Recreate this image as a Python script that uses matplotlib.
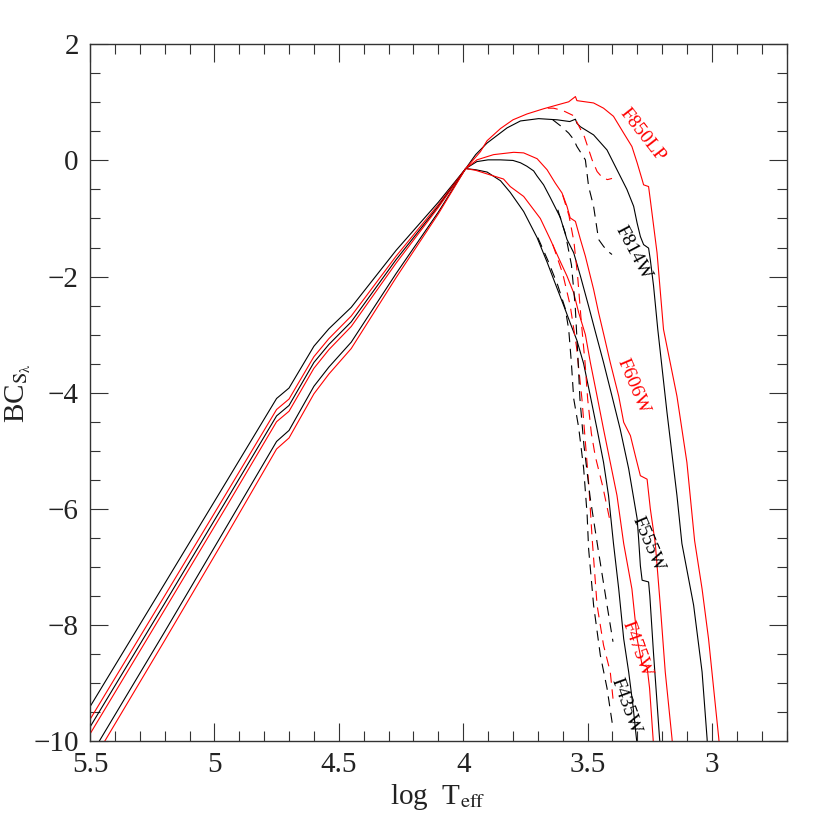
import matplotlib
matplotlib.use("Agg")
import matplotlib.pyplot as plt
from matplotlib.ticker import MultipleLocator, FuncFormatter

# ==================
# bolometric corrections
# hot part shares one log Teff grid
X_HOT = [5.5, 5.2, 4.95, 4.75, 4.70, 4.60, 4.54, 4.45, 4.27, 4.10]

F435W_X = X_HOT + [3.99, 3.95, 3.904, 3.85, 3.811, 3.757, 3.703, 3.663, 3.623, 3.596, 3.57,
                   3.543, 3.516, 3.489, 3.462, 3.436, 3.416, 3.396, 3.375, 3.355, 3.335, 3.318,
                   3.304, 3.30]
F435W_Y = [-9.41, -7.29, -5.52, -4.10, -3.92, -3.20, -2.90, -2.53, -1.55, -0.72,
           -0.14, -0.16, -0.20, -0.35, -0.55, -0.88, -1.33, -1.75, -2.20, -2.50, -2.80,
           -3.10, -3.50, -4.06, -4.63, -5.20, -5.77, -6.60, -7.38, -8.24, -8.81, -9.38,
           -9.95, -10.10]

F475W_X = X_HOT + [3.99, 3.95, 3.891, 3.838, 3.811, 3.757, 3.69, 3.65, 3.61, 3.583, 3.556,
                   3.536, 3.509, 3.489, 3.462, 3.436, 3.409, 3.382, 3.355, 3.322, 3.301,
                   3.281, 3.261, 3.251, 3.237, 3.235]
F475W_Y = [-9.63, -7.50, -5.72, -4.29, -4.11, -3.38, -3.07, -2.68, -1.65, -0.76,
           -0.14, -0.17, -0.25, -0.32, -0.45, -0.62, -1.00, -1.36, -1.74, -1.99, -2.28,
           -2.62, -3.00, -3.48, -4.06, -4.63, -5.20, -5.77, -6.60, -7.38, -8.24,
           -8.69, -8.72, -9.09, -9.95, -10.10]

F555W_X = X_HOT + [3.99, 3.945, 3.90, 3.851, 3.80, 3.77, 3.744, 3.717, 3.703, 3.677, 3.65,
                   3.61, 3.583, 3.556, 3.529, 3.496, 3.469, 3.436, 3.402, 3.369, 3.335,
                   3.301, 3.295, 3.288, 3.281, 3.255, 3.25, 3.235, 3.22, 3.211, 3.208]
F555W_Y = [-9.76, -7.63, -5.84, -4.40, -4.22, -3.48, -3.17, -2.78, -1.71, -0.79,
           -0.14, -0.02, 0.01, 0.01, 0.0, -0.04, -0.10, -0.18, -0.27, -0.42, -0.64,
           -0.98, -1.36, -1.59, -1.99, -2.51, -2.95, -3.48, -4.06, -4.63, -5.31,
           -6.17, -6.52, -6.98, -7.23, -7.26, -7.50, -8.50, -9.40, -9.95, -10.10]

F606W_X = X_HOT + [3.99, 3.945, 3.878, 3.797, 3.757, 3.703, 3.663, 3.63, 3.603, 3.583, 3.57,
                   3.549, 3.529, 3.509, 3.476, 3.456, 3.435, 3.409, 3.375, 3.355, 3.328,
                   3.308, 3.288, 3.261, 3.248, 3.228, 3.208, 3.188, 3.161, 3.158]
F606W_Y = [-9.88, -7.74, -5.95, -4.50, -4.32, -3.58, -3.26, -2.86, -1.77, -0.81,
           -0.14, 0.01, 0.10, 0.14, 0.13, 0.03, -0.16, -0.39, -0.56, -0.79, -0.99,
           -1.05, -1.36, -1.65, -2.22, -2.62, -3.00, -3.48, -4.06, -4.51, -4.74,
           -5.09, -5.43, -5.49, -6.00, -6.60, -7.66, -8.81, -9.95, -10.10]

F814W_X = X_HOT + [3.99, 3.95, 3.904, 3.824, 3.77, 3.697, 3.623, 3.572, 3.549, 3.543, 3.529,
                   3.476, 3.422, 3.382, 3.342, 3.315, 3.301, 3.288, 3.275, 3.255, 3.248,
                   3.235, 3.218, 3.181, 3.141, 3.121, 3.074, 3.04, 3.02, 3.018]
F814W_Y = [-10.27, -8.12, -6.30, -4.84, -4.65, -3.89, -3.56, -3.13, -1.95, -0.89,
           -0.14, 0.10, 0.30, 0.56, 0.68, 0.72, 0.70, 0.67, 0.71, 0.64, 0.58,
           0.44, 0.18, -0.16, -0.50, -0.79, -1.08, -1.31, -1.45, -1.51, -1.71,
           -2.16, -2.91, -4.34, -5.77, -6.60, -7.66, -8.81, -9.95, -10.10]

F850LP_X = X_HOT + [3.99, 3.931, 3.904, 3.85, 3.80, 3.744, 3.677, 3.61, 3.576, 3.549, 3.543,
                    3.476, 3.436, 3.396, 3.355, 3.322, 3.301, 3.281, 3.275, 3.255, 3.248,
                    3.221, 3.195, 3.141, 3.101, 3.07, 3.04, 3.014, 2.973, 2.97]
F850LP_Y = [-10.43, -8.27, -6.45, -4.97, -4.78, -4.02, -3.68, -3.24, -2.02, -0.92,
            -0.14, 0.15, 0.34, 0.55, 0.70, 0.80, 0.89, 0.97, 1.01, 1.10, 1.03,
            0.99, 0.90, 0.76, 0.47, 0.24, -0.04, -0.33, -0.42, -0.45, -0.68,
            -1.59, -2.91, -4.06, -5.20, -6.55, -7.38, -8.24, -9.95, -10.10]

# second (dashed) set, stops at log Teff = 3.4
F435W_DX = [3.70, 3.66, 3.62, 3.59, 3.576, 3.565, 3.556, 3.536, 3.516, 3.502, 3.496, 3.476,
            3.449, 3.422, 3.398]
F435W_DY = [-1.33, -1.72, -2.15, -2.55, -2.91, -3.50, -4.10, -4.60, -5.30, -6.10, -6.69,
            -7.66, -8.52, -9.09, -9.78]
F475W_DX = [3.64, 3.60, 3.57, 3.545, 3.523, 3.51, 3.495, 3.482, 3.462, 3.436, 3.409, 3.398]
F475W_DY = [-1.45, -1.95, -2.50, -3.20, -4.10, -4.80, -5.60, -6.50, -7.66, -8.35, -8.81, -9.27]
F555W_DX = [3.62, 3.59, 3.565, 3.55, 3.54, 3.531, 3.515, 3.49, 3.458, 3.422, 3.398]
F555W_DY = [-0.85, -1.25, -1.80, -2.50, -3.30, -4.10, -4.90, -5.80, -6.69, -7.66, -8.29]
F606W_DX = [3.60, 3.575, 3.555, 3.54, 3.525, 3.51, 3.50, 3.485, 3.469, 3.44, 3.409]
F606W_DY = [-0.60, -0.95, -1.40, -2.00, -2.80, -3.50, -4.10, -4.70, -5.10, -5.60, -6.23]
F814W_DX = [3.64, 3.61, 3.576, 3.556, 3.543, 3.509, 3.496, 3.476, 3.456, 3.436, 3.42, 3.402]
F814W_DY = [0.70, 0.60, 0.47, 0.36, 0.24, 0.01, -0.45, -0.79, -1.36, -1.48, -1.56, -1.62]
F850LP_DX = [3.66, 3.637, 3.60, 3.556, 3.53, 3.513, 3.482, 3.462, 3.44, 3.42, 3.402]
F850LP_DY = [0.90, 0.90, 0.86, 0.77, 0.55, 0.41, 0.01, -0.19, -0.30, -0.33, -0.31]

FILTERS = ["F435W", "F475W", "F555W", "F606W", "F814W", "F850LP"]
# label anchor (log Teff, BC) and angle for each filter name
LABEL_POS = [(3.346, -9.39, -70), (3.305, -8.41, -70), (3.258, -6.60, -67),
             (3.318, -3.89, -67), (3.316, -1.59, -62), (3.282, 0.44, -52)]
# ===================

SOLID = [(F435W_X, F435W_Y), (F475W_X, F475W_Y), (F555W_X, F555W_Y),
         (F606W_X, F606W_Y), (F814W_X, F814W_Y), (F850LP_X, F850LP_Y)]
DASHED = [(F435W_DX, F435W_DY), (F475W_DX, F475W_DY), (F555W_DX, F555W_DY),
          (F606W_DX, F606W_DY), (F814W_DX, F814W_DY), (F850LP_DX, F850LP_DY)]
COLORS = ["black", "red"] * 3

plt.rcParams['font.family'] = ['Liberation Serif', 'DejaVu Serif']
plt.rcParams['mathtext.fontset'] = 'stix'

fig = plt.figure(figsize=(8.3, 8.3), dpi=100)
ax = fig.add_axes([0.1084, 0.1072, 0.8394, 0.8394])

for (x, y), (dx, dy), c in zip(SOLID, DASHED, COLORS):
    ax.plot(x, y, color=c, lw=0.8)
    ax.plot(dx, dy, color=c, lw=0.8, linestyle=(0, (9, 6)))

for name, (lx, ly, rot), c in zip(FILTERS, LABEL_POS, COLORS):
    ax.text(lx, ly, name, color=c, fontsize=14, rotation=rot,
            rotation_mode='anchor', ha='center', va='center')

ax.set_xlim(5.5, 2.7)
ax.set_ylim(-10, 2)

ax.xaxis.set_major_locator(MultipleLocator(0.5))
ax.xaxis.set_minor_locator(MultipleLocator(0.1))
ax.yaxis.set_major_locator(MultipleLocator(2))
ax.yaxis.set_minor_locator(MultipleLocator(0.5))
fmt = FuncFormatter(lambda v, p: ('%g' % v).replace('-', '\u2212'))
ax.xaxis.set_major_formatter(fmt)
ax.yaxis.set_major_formatter(fmt)

ax.tick_params(which='both', direction='in', top=True, right=True, width=0.8, color='#333333')
ax.tick_params(which='major', length=13, labelsize=21, pad=8, labelcolor='#222222')
ax.tick_params(which='minor', length=7)
for s in ax.spines.values():
    s.set_linewidth(1.0)
    s.set_color('#333333')

ax.set_xlabel(r'log  T$_{\rm eff}$', fontsize=21, labelpad=3, color='#222222')
ax.set_ylabel(r'BC$_{\rm S_{\lambda}}$', fontsize=21, labelpad=0, color='#222222')

fig.savefig('out.png', dpi=100)
